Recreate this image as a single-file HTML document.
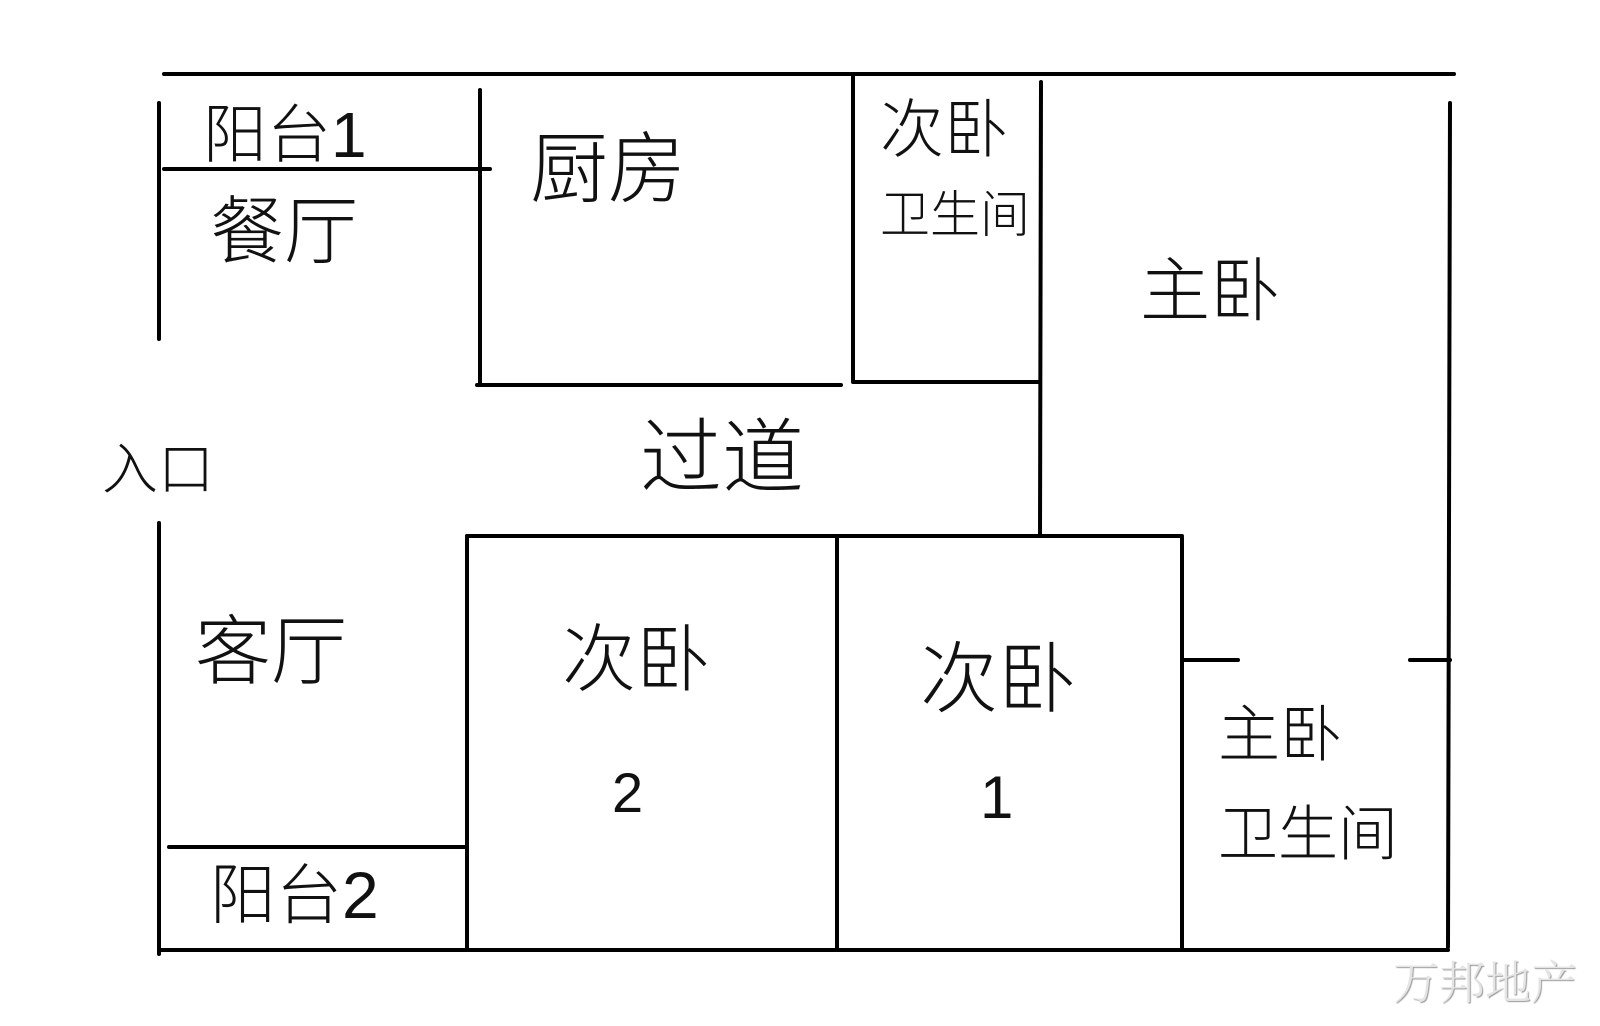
<!DOCTYPE html>
<html><head><meta charset="utf-8"><style>
html,body{margin:0;padding:0;background:#fff}
#c{position:relative;width:1600px;height:1026px;overflow:hidden;background:#fff}
.t{position:absolute;font-family:"Liberation Sans","Noto Sans CJK SC",sans-serif;color:#111;white-space:nowrap;line-height:1;font-weight:300}
</style></head><body><div id="c">
<svg width="1600" height="1026" style="position:absolute;left:0;top:0" stroke="#000" stroke-width="4" stroke-linecap="round" fill="none">
<line x1="164" y1="74" x2="1454" y2="74"/>
<line x1="159" y1="103" x2="159" y2="339"/>
<line x1="159" y1="523" x2="159" y2="954"/>
<line x1="159" y1="950" x2="1448" y2="950"/>
<line x1="1450" y1="103" x2="1448" y2="947"/>
<line x1="164" y1="169" x2="490" y2="169"/>
<line x1="480" y1="90" x2="480" y2="385"/>
<line x1="477" y1="385" x2="841" y2="385"/>
<line x1="853" y1="77" x2="853" y2="380"/>
<line x1="853" y1="382" x2="1040" y2="382"/>
<line x1="1041" y1="82" x2="1040" y2="536"/>
<line x1="467" y1="536" x2="1182" y2="536"/>
<line x1="467" y1="536" x2="467" y2="949"/>
<line x1="837" y1="536" x2="837" y2="949"/>
<line x1="1182" y1="538" x2="1182" y2="949"/>
<line x1="1182" y1="660" x2="1238" y2="660"/>
<line x1="1410" y1="660" x2="1450" y2="660"/>
<line x1="169" y1="847" x2="467" y2="847"/>
</svg>
<div class="t" style="left:203px;top:103px;font-size:64px">阳台1</div>
<div class="t" style="left:530px;top:130px;font-size:78px">厨房</div>
<div class="t" style="left:880px;top:98px;font-size:64px">次卧</div>
<div class="t" style="left:880px;top:190px;font-size:50px">卫生间</div>
<div class="t" style="left:1140px;top:256px;font-size:70px">主卧</div>
<div class="t" style="left:102px;top:442px;font-size:56px">入口</div>
<div class="t" style="left:640px;top:418px;font-size:82px">过道</div>
<div class="t" style="left:210px;top:195px;font-size:74px">餐厅</div>
<div class="t" style="left:195px;top:615px;font-size:76px">客厅</div>
<div class="t" style="left:562px;top:623px;font-size:74px">次卧</div>
<div class="t" style="left:612px;top:765px;font-size:56px">2</div>
<div class="t" style="left:920px;top:640px;font-size:78px">次卧</div>
<div class="t" style="left:980px;top:768px;font-size:60px">1</div>
<div class="t" style="left:1218px;top:705px;font-size:62px">主卧</div>
<div class="t" style="left:1218px;top:805px;font-size:60px">卫生间</div>
<div class="t" style="left:210px;top:862px;font-size:66px">阳台2</div>
<div class="t" style="left:1393px;top:957px;font-size:46px;color:#e4e4e4;font-family:'Noto Serif CJK SC',serif;text-shadow:1px 1px 1px #999">万邦地产</div>
</div></body></html>
